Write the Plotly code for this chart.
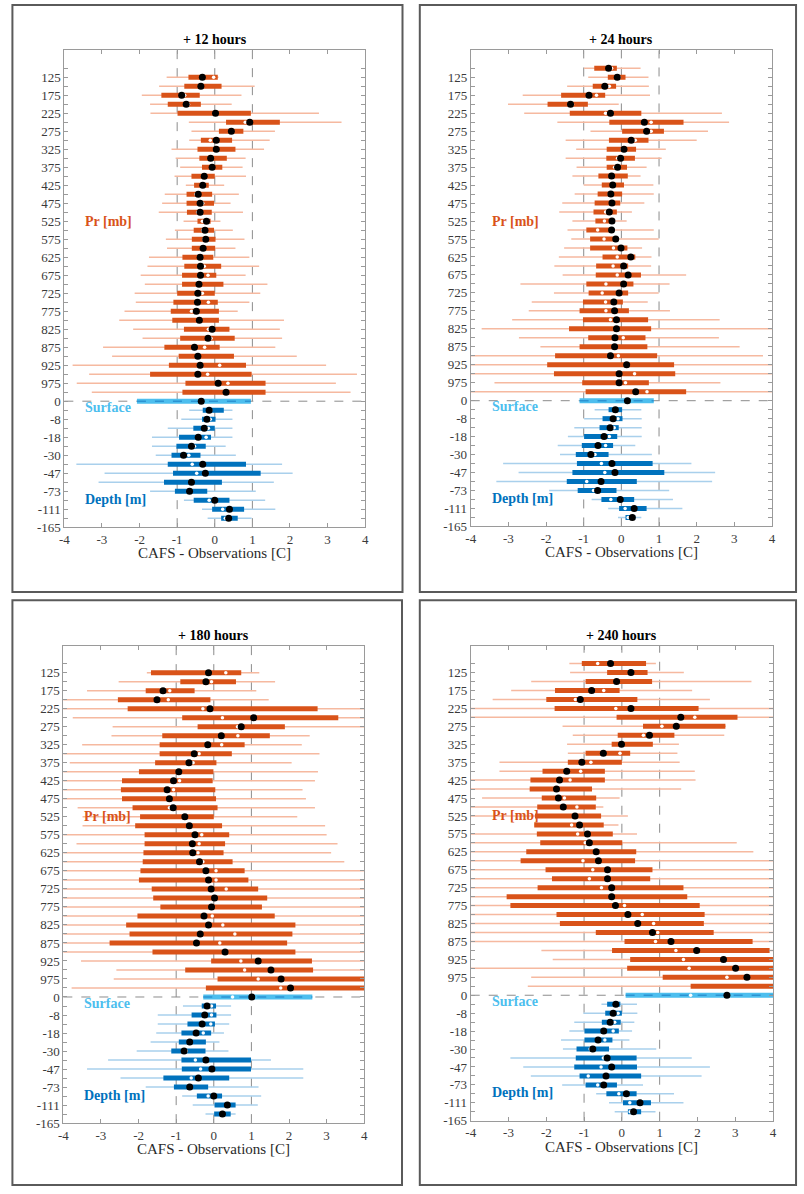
import plotly.graph_objects as go

W, H = 804, 1194
FONT = "Liberation Serif, Times New Roman, serif"

# ---------------- categories / tick labels (row index 0..51, top to bottom) ----------------
tick_labels = ["", "125", "", "175", "", "225", "", "275", "", "325", "", "375", "",
               "425", "", "475", "", "525", "", "575", "", "625", "", "675", "", "725",
               "", "775", "", "825", "", "875", "", "925", "", "975", "",
               "0", "", "-8", "", "-18", "", "-30", "", "-47", "", "-73", "", "-111", "", "-165"]
n_pressure = 37          # rows 0..36 are pressure levels, row 37 is the surface, rows 38.. are depths
surface_row = 37
x_ticks = [-4, -3, -2, -1, 0, 1, 2, 3, 4]
x_tick_text = ["-4", "-3", "-2", "-1", "0", "1", "2", "3", "4"]
panel_titles = ["+ 12 hours", "+ 24 hours", "+ 180 hours", "+ 240 hours"]

# ---------------- data: whisker low, box low, box high, whisker high, mean, median ----------------
h12_wlo = [None, -1.28, -1.48, -1.94, -1.72, -1.71, -0.69, -0.62, -0.68, -1.15, -1.04, -0.92, -1.07, -0.77, -1.33, -1.40, -1.49, -0.83, -1.06, -1.30, -1.27, -1.75, -1.79, -1.97, -1.86, -2.13, -2.10, -2.40, -2.54, -2.17, -1.92, -2.97, -2.73, -3.78, -3.34, -3.67, -3.27,
           -2.07, -0.68, -0.89, -1.25, -1.67, -1.67, -1.57, -3.68, -2.93, -3.09, -1.72, -0.82, -0.34, -0.19]
h12_blo = [None, -0.70, -0.81, -1.42, -1.25, -0.99, 0.30, 0.11, -0.37, -0.46, -0.41, -0.34, -0.62, -0.55, -0.75, -0.75, -0.74, -0.46, -0.56, -0.61, -0.61, -0.86, -0.81, -0.87, -0.87, -1.00, -1.10, -1.17, -1.13, -0.82, -0.92, -1.34, -0.96, -1.22, -1.72, -0.78, -0.86,
           -2.07, -0.32, -0.34, -0.57, -0.95, -1.02, -1.15, -1.25, -1.11, -1.35, -1.06, -0.56, -0.07, 0.17]
h12_bhi = [None, 0.08, 0.18, -0.40, -0.37, 0.96, 1.73, 0.76, 0.46, 0.55, 0.32, 0.20, 0.00, -0.16, -0.07, -0.02, -0.08, -0.11, -0.02, 0.02, 0.01, -0.04, 0.17, 0.04, 0.23, 0.00, 0.08, 0.11, 0.11, 0.39, 0.53, 0.13, 0.51, 0.83, 0.98, 1.35, 1.35,
           0.96, 0.24, 0.02, 0.00, -0.10, -0.24, -0.38, 0.83, 1.22, 0.19, -0.20, 0.39, 0.78, 0.61]
h12_whi = [None, 0.10, 1.06, 0.71, 0.45, 2.77, 3.37, 1.60, 1.46, 1.31, 0.82, 0.74, 0.83, 0.25, 0.64, 0.42, 0.75, 0.15, 0.48, 0.79, 0.55, 0.92, 1.18, 0.82, 1.40, 1.21, 0.92, 0.61, 1.84, 1.73, 1.79, 1.61, 2.18, 2.96, 3.78, 3.22, 3.61,
           0.96, 0.47, 0.47, 0.47, 0.47, 0.29, 0.56, 1.79, 2.07, 1.57, 1.09, 1.34, 1.61, 0.98]
h12_mean = [None, -0.33, -0.37, -0.88, -0.76, 0.02, 0.93, 0.44, 0.04, 0.04, -0.11, -0.07, -0.28, -0.32, -0.44, -0.39, -0.39, -0.22, -0.26, -0.24, -0.31, -0.39, -0.38, -0.38, -0.42, -0.45, -0.46, -0.49, -0.41, -0.07, -0.18, -0.54, -0.45, -0.39, -0.45, 0.09, 0.30,
            -0.36, -0.15, -0.21, -0.28, -0.44, -0.62, -0.83, -0.32, -0.25, -0.62, -0.67, 0.00, 0.39, 0.37]
h12_med = [None, -0.03, -0.35, -0.80, -0.70, 0.00, 0.81, 0.40, -0.12, 0.00, -0.14, -0.10, -0.30, -0.28, -0.50, -0.32, -0.45, -0.33, -0.32, -0.29, -0.30, -0.36, -0.28, -0.18, -0.40, -0.33, -0.17, -0.62, -0.40, -0.17, -0.10, -0.27, -0.45, 0.13, -0.19, 0.35, 0.30,
           -0.36, -0.11, -0.12, -0.17, -0.23, -0.54, -0.69, -0.60, -0.48, -0.60, -0.65, -0.15, 0.21, 0.28]

h24_wlo = [-0.99, -0.88, -1.44, -2.62, -3.01, -2.58, -1.70, -0.82, -1.48, -1.20, -1.48, -1.19, -1.30, -1.00, -1.24, -1.57, -1.65, -1.30, -1.43, -1.33, -1.52, -1.66, -1.78, -1.56, -2.68, -1.79, -2.38, -2.46, -2.90, -3.71, -2.72, -2.15, -4.50, -4.50, -4.50, -3.37, -4.50,
           -1.11, -0.71, -0.99, -1.25, -1.42, -1.69, -1.63, -3.14, -2.73, -3.32, -1.92, -0.79, -0.35, -0.09]
h24_blo = [-0.72, -0.36, -0.76, -1.60, -1.96, -1.37, -0.32, 0.02, -0.33, -0.39, -0.40, -0.39, -0.61, -0.52, -0.63, -0.71, -0.74, -0.69, -0.93, -0.83, -0.83, -0.50, -0.67, -0.68, -0.93, -0.87, -1.02, -1.11, -1.02, -1.39, -0.88, -1.11, -1.76, -1.97, -1.79, -1.04, -0.95,
           -1.11, -0.34, -0.50, -0.58, -0.99, -1.05, -1.21, -1.18, -1.30, -1.45, -1.16, -0.53, -0.06, 0.11]
h24_bhi = [-0.12, 0.11, -0.14, -0.43, -0.89, 0.53, 1.65, 1.13, 0.72, 0.39, 0.36, 0.15, 0.17, 0.07, 0.02, -0.03, -0.12, -0.18, -0.26, -0.09, 0.16, 0.37, 0.18, 0.52, 0.32, 0.18, 0.04, 0.20, 0.71, 0.79, 0.64, 0.69, 0.95, 1.40, 1.43, 0.73, 1.72,
           0.86, 0.02, 0.03, -0.07, -0.11, -0.22, -0.34, 0.83, 1.14, 0.41, -0.13, 0.34, 0.67, 0.37]
h24_whi = [0.51, 0.72, 0.73, 0.76, -0.07, 2.67, 2.86, 2.30, 2.00, 1.18, 1.07, 0.67, 0.51, 0.85, 0.86, 0.61, 0.28, 0.14, 0.86, 0.99, 0.55, 0.80, 0.79, 1.72, 1.28, 0.99, 0.70, 1.29, 2.61, 4.50, 2.59, 3.14, 3.76, 4.50, 4.50, 2.63, 4.50,
           0.86, 0.53, 0.54, 0.54, 0.54, 0.37, 0.81, 1.86, 2.49, 2.41, 1.27, 1.37, 1.62, 0.53]
h24_mean = [-0.34, -0.11, -0.44, -0.86, -1.35, -0.29, 0.61, 0.67, 0.26, 0.07, -0.02, -0.10, -0.26, -0.23, -0.28, -0.25, -0.32, -0.25, -0.26, -0.15, -0.01, 0.25, 0.06, 0.18, 0.06, -0.06, -0.20, -0.18, -0.13, -0.13, -0.17, -0.18, -0.29, 0.14, -0.06, -0.06, 0.38,
            0.16, -0.16, -0.22, -0.30, -0.46, -0.62, -0.81, -0.25, -0.17, -0.54, -0.63, -0.03, 0.34, 0.29]
h24_med = [-0.26, -0.06, -0.32, -0.66, -1.30, -0.42, 0.79, 0.79, 0.37, 0.02, -0.10, -0.18, -0.29, -0.19, -0.32, -0.25, -0.42, -0.45, -0.63, -0.46, -0.21, -0.11, -0.22, -0.11, -0.41, -0.51, -0.42, -0.41, -0.29, -0.13, 0.05, -0.18, -0.08, 0.14, 0.35, 0.11, 0.68,
           0.16, -0.16, -0.09, -0.19, -0.32, -0.42, -0.70, -0.53, -0.44, -0.92, -0.74, -0.28, 0.10, 0.18]

h180_wlo = [None, -1.78, -2.53, -3.37, -4.50, -4.50, -3.75, -2.69, -2.72, -3.50, -4.50, -3.83, -4.50, -4.50, -4.50, -4.50, -3.62, -3.49, -3.49, -4.50, -3.65, -4.50, -4.50, -4.50, -4.50, -4.50, -4.50, -4.50, -4.50, -4.50, -4.50, -4.50, -4.50, -3.53, -2.59, -2.66, -3.78,
            -0.28, -0.82, -1.49, -1.49, -1.53, -1.68, -2.05, -2.81, -3.37, -2.48, -1.81, -0.84, -0.56, -0.22]
h180_blo = [None, -1.67, -0.89, -1.81, -2.55, -2.29, -0.84, -0.43, -1.37, -1.44, -1.44, -1.56, -1.99, -2.44, -2.47, -2.44, -2.16, -1.96, -2.09, -1.84, -1.84, -1.87, -1.89, -1.95, -1.99, -1.65, -1.61, -1.42, -2.03, -2.33, -2.24, -2.77, -1.63, -0.07, -0.76, 0.10, -0.21,
            -0.28, -0.32, -0.59, -0.70, -0.86, -0.93, -1.13, -0.86, -0.85, -1.34, -1.06, -0.45, 0.02, 0.01]
h180_bhi = [None, 0.73, 0.59, -0.51, -0.09, 2.76, 3.31, 1.89, 1.49, 0.82, 0.48, 0.07, -0.01, -0.03, 0.04, 0.06, 0.10, 0.00, 0.22, 0.41, 0.30, 0.26, 0.50, 0.82, 0.92, 1.18, 1.42, 1.28, 1.62, 2.17, 2.09, 1.95, 2.17, 2.61, 2.64, 4.50, 4.50,
            2.62, 0.06, 0.07, 0.03, -0.07, -0.21, -0.22, 0.99, 0.99, 0.41, -0.15, 0.22, 0.58, 0.45]
h180_whi = [None, 1.21, 1.63, 1.13, 1.46, 4.50, 4.50, 4.50, 2.55, 2.34, 2.81, 2.07, 2.77, 2.69, 2.36, 2.45, 2.69, 2.22, 2.96, 3.00, 3.29, 3.12, 3.47, 4.50, 4.50, 4.50, 4.50, 4.50, 4.50, 4.50, 4.50, 4.50, 4.50, 4.50, 4.50, 4.50, 4.50,
            2.62, 0.46, 0.46, 0.41, 0.27, 0.15, 0.39, 1.52, 2.38, 2.38, 1.19, 1.26, 1.17, 0.58]
h180_mean = [None, -0.14, -0.21, -1.35, -1.51, -0.10, 1.06, 0.73, 0.20, -0.16, -0.52, -0.66, -0.93, -1.07, -1.24, -1.18, -1.08, -0.77, -0.65, -0.50, -0.57, -0.56, -0.38, -0.21, -0.14, -0.07, 0.02, -0.06, -0.26, -0.14, -0.36, -0.46, 0.30, 1.18, 1.52, 1.79, 2.04,
             1.01, -0.18, -0.24, -0.31, -0.47, -0.64, -0.79, -0.21, -0.05, -0.41, -0.64, 0.00, 0.36, 0.23]
h180_med = [None, 0.32, -0.06, -1.17, -1.21, -0.29, 0.23, 0.63, 0.64, 0.21, -0.39, -0.55, -0.93, -0.91, -1.07, -1.18, -1.18, -0.77, -0.65, -0.32, -0.39, -0.42, -0.29, 0.06, 0.06, 0.33, 0.02, -0.06, -0.04, 0.24, 0.56, 0.16, 0.30, 0.72, 0.82, 1.18, 1.78,
            0.50, -0.06, -0.06, -0.08, -0.28, -0.64, -0.73, -0.49, -0.35, -0.60, -0.64, -0.15, 0.36, 0.23]

h240_wlo = [-1.39, -1.37, -2.40, -2.93, -3.42, -4.50, -4.50, -1.57, -1.30, -1.45, -1.43, -3.24, -3.24, -4.50, -4.50, -3.70, -4.50, -4.50, -2.31, -4.50, -4.50, -4.50, -4.50, -4.50, -4.50, -4.50, -4.50, -4.50, -4.50, -4.50, -4.50, -4.50, -2.13, -1.83, -4.50, -2.40, -2.49,
            0.10, -0.54, -1.02, -1.26, -1.39, -1.61, -1.56, -2.95, -2.61, -2.41, -1.58, -0.68, -0.34, -0.19]
h240_blo = [-1.06, -0.39, -0.96, -1.77, -2.00, -1.78, -0.14, 0.56, -0.11, -0.27, -0.96, -1.43, -2.10, -2.42, -2.44, -2.12, -2.24, -2.30, -2.32, -2.25, -2.16, -2.53, -2.68, -2.02, -1.85, -2.23, -3.05, -2.95, -1.73, -1.64, -0.69, 0.07, -0.26, 0.22, 0.14, 1.08, 1.82,
            0.10, -0.39, -0.44, -0.53, -0.99, -0.99, -1.20, -1.22, -1.26, -1.12, -0.96, -0.41, 0.03, 0.16]
h240_bhi = [0.64, 0.68, 0.80, -0.06, 0.41, 2.03, 3.06, 2.74, 1.39, 0.82, 0.22, 0.00, -0.45, -0.45, -0.79, -0.68, -0.69, -0.55, -0.48, -0.24, 0.01, 0.38, 0.35, 0.81, 0.75, 1.63, 1.73, 2.06, 2.19, 2.17, 2.43, 3.46, 3.91, 4.50, 4.50, 4.50, 4.50,
            4.50, -0.04, 0.00, -0.03, -0.08, -0.25, -0.34, 0.39, 0.40, 0.51, -0.13, 0.39, 0.77, 0.51]
h240_whi = [0.90, 1.64, 3.43, 1.86, 2.33, 4.50, 4.50, 2.75, 2.71, 1.51, 1.47, 1.53, 1.93, 1.95, 1.57, -0.06, -0.49, 0.16, -0.09, 0.40, 3.04, 3.48, 4.50, 4.50, 4.50, 4.50, 4.50, 4.50, 4.50, 4.50, 4.50, 4.50, 4.50, 4.50, 4.50, 4.50, 4.50,
            4.50, 0.40, 0.41, 0.33, 0.27, 0.20, 0.91, 1.85, 2.33, 2.11, 0.56, 1.38, 1.63, 0.89]
h240_mean = [-0.30, 0.24, -0.14, -0.80, -1.10, 0.24, 1.56, 1.44, 0.73, -0.01, -0.49, -1.06, -1.46, -1.65, -1.73, -1.68, -1.55, -1.24, -1.12, -0.91, -0.86, -0.68, -0.62, -0.38, -0.38, -0.27, -0.27, -0.17, 0.16, 0.42, 0.81, 1.30, 1.98, 2.69, 3.01, 3.31, 4.30,
             2.78, -0.16, -0.23, -0.31, -0.48, -0.63, -0.77, -0.39, -0.27, -0.42, -0.48, 0.12, 0.48, 0.31]
h240_med = [-0.64, 0.24, -0.14, -0.48, -1.23, -0.16, 1.93, 1.06, 0.57, -0.01, -0.05, -0.82, -1.09, -1.37, -1.73, -1.52, -1.19, -1.24, -1.33, -1.17, -0.97, -0.68, -1.03, -0.77, -0.86, -0.54, -0.27, 0.07, 0.54, 0.84, 0.95, 0.89, 1.43, 1.63, 1.78, 2.78, 4.30,
            1.82, -0.16, -0.10, -0.19, -0.23, -0.45, -0.84, -0.49, -0.55, -0.89, -0.64, -0.08, 0.21, 0.22]

panels = [
    (h12_wlo, h12_blo, h12_bhi, h12_whi, h12_mean, h12_med),
    (h24_wlo, h24_blo, h24_bhi, h24_whi, h24_mean, h24_med),
    (h180_wlo, h180_blo, h180_bhi, h180_whi, h180_mean, h180_med),
    (h240_wlo, h240_blo, h240_bhi, h240_whi, h240_mean, h240_med),
]

# ---------------- layout geometry (pixels of the page) ----------------
# plot areas: (left, right, top, bottom)
areas = [(60, 364.3, 50.7, 530.7), (471, 775.7, 50.7, 530.0),
         (59, 363.3, 650, 1130.7), (471, 776.7, 650, 1128.3)]
frames = [(7.5, 402, 5, 596), (419.5, 800, 5, 596),
          (7.5, 401.5, 604.3, 1193), (419.5, 800, 604.3, 1193)]

# colours
PR_BAR, PR_WHISK = "#D95319", "#F6B9A0"
DP_BAR, DP_WHISK = "#0072BD", "#A9D0EC"
SURF = "#4DBEEE"
AX = "#9a9a9a"


def px(x):
    return x / W


def py(y):
    return 1 - y / H


def segments(lo, hi, rows):
    xs, ys = [], []
    for i in rows:
        if lo[i] is None or hi[i] is None:
            continue
        xs += [lo[i], hi[i], None]
        ys += [i, i, None]
    return xs, ys


fig = go.Figure()
shapes, annotations = [], []
pr_rows = list(range(0, n_pressure))
dp_rows = list(range(surface_row + 1, len(h12_wlo)))
all_rows = list(range(len(h12_wlo)))

for k, (wlo, blo, bhi, whi, mean, med) in enumerate(panels):
    n = k + 1
    xa = "x" if n == 1 else f"x{n}"
    ya = "y" if n == 1 else f"y{n}"
    L, R, T, B = areas[k]

    def line_trace(xs, ys, color, width, dash=None):
        fig.add_trace(go.Scatter(x=xs, y=ys, mode="lines", xaxis=xa, yaxis=ya,
                                 line=dict(color=color, width=width, dash=dash),
                                 hoverinfo="skip", showlegend=False))

    # whiskers
    line_trace(*segments(wlo, whi, pr_rows), PR_WHISK, 1.5)
    line_trace(*segments(wlo, whi, dp_rows), DP_WHISK, 1.5)
    # boxes
    line_trace(*segments(blo, bhi, pr_rows), PR_BAR, 5)
    line_trace(*segments(blo, bhi, [surface_row]), SURF, 5)
    line_trace(*segments(blo, bhi, [surface_row]), "#2C93D2", 1.5, "dash")
    line_trace(*segments(blo, bhi, dp_rows), DP_BAR, 5)

    # medians (white) and means (black)
    mrows = [i for i in all_rows if med[i] is not None]
    fig.add_trace(go.Scatter(x=[med[i] for i in mrows], y=mrows, mode="markers",
                             xaxis=xa, yaxis=ya, marker=dict(color="white", size=3.5),
                             hoverinfo="skip", showlegend=False))
    arows = [i for i in all_rows if mean[i] is not None]
    fig.add_trace(go.Scatter(x=[mean[i] for i in arows], y=arows, mode="markers",
                             xaxis=xa, yaxis=ya, marker=dict(color="black", size=7),
                             hoverinfo="skip", showlegend=False))

    axis_common = dict(showline=True, linecolor=AX, linewidth=1, mirror="ticks",
                       ticks="inside", ticklen=4, tickcolor=AX, showgrid=False,
                       zeroline=False, tickfont=dict(family=FONT, size=13, color="#3a3a3a"))
    fig.update_layout(**{
        ("xaxis" if n == 1 else f"xaxis{n}"): dict(
            domain=[px(L), px(R)], anchor=ya, range=[-4, 4],
            tickvals=x_ticks, ticktext=x_tick_text, **axis_common),
        ("yaxis" if n == 1 else f"yaxis{n}"): dict(
            domain=[py(B), py(T)], anchor=xa, range=[51, -2],
            tickvals=list(range(len(tick_labels))), ticktext=tick_labels, **axis_common),
    })

    # dashed reference lines
    for xv in [-1, 0, 1]:
        shapes.append(dict(type="line", xref=xa, yref=f"{ya} domain", x0=xv, x1=xv, y0=0, y1=1,
                           line=dict(color="#8c8c8c", width=1, dash="dash"), layer="below"))
    shapes.append(dict(type="line", xref=f"{xa} domain", yref=ya, x0=0, x1=1,
                       y0=surface_row, y1=surface_row,
                       line=dict(color="#8c8c8c", width=1, dash="dash"), layer="below"))
    # outer frame
    fL, fR, fT, fB = frames[k]
    shapes.append(dict(type="rect", xref="paper", yref="paper", x0=px(fL), x1=px(fR),
                       y0=py(fB), y1=py(fT), line=dict(color="#5a5a5a", width=2)))

    # titles
    annotations.append(dict(text=f"<b>{panel_titles[k]}</b>", xref="paper", yref="paper",
                            x=px((L + R) / 2), y=py(T - 10.5), xanchor="center", yanchor="middle",
                            showarrow=False, font=dict(family=FONT, size=14, color="black")))
    annotations.append(dict(text="CAFS - Observations [C]", xref="paper", yref="paper",
                            x=px((L + R) / 2), y=py(B + 26), xanchor="center", yanchor="middle",
                            showarrow=False, font=dict(family=FONT, size=15, color="#2a2a2a")))
    # in-plot labels
    for txt, yrow, col in [("<b>Pr [mb]</b>", 17, PR_BAR), ("<b>Surface</b>", 37.7, SURF),
                           ("<b>Depth [m]</b>", 47.9, DP_BAR)]:
        annotations.append(dict(text=txt, xref=xa, yref=ya, x=-3.5, y=yrow, xanchor="left",
                                yanchor="middle", showarrow=False,
                                font=dict(family=FONT, size=14, color=col)))

fig.update_layout(width=W, height=H, margin=dict(l=0, r=0, t=0, b=0),
                  paper_bgcolor="white", plot_bgcolor="white",
                  shapes=shapes, annotations=annotations, showlegend=False)

fig.write_html("out.html", config={"displayModeBar": False},
               post_script="document.body.style.margin='0px';")
